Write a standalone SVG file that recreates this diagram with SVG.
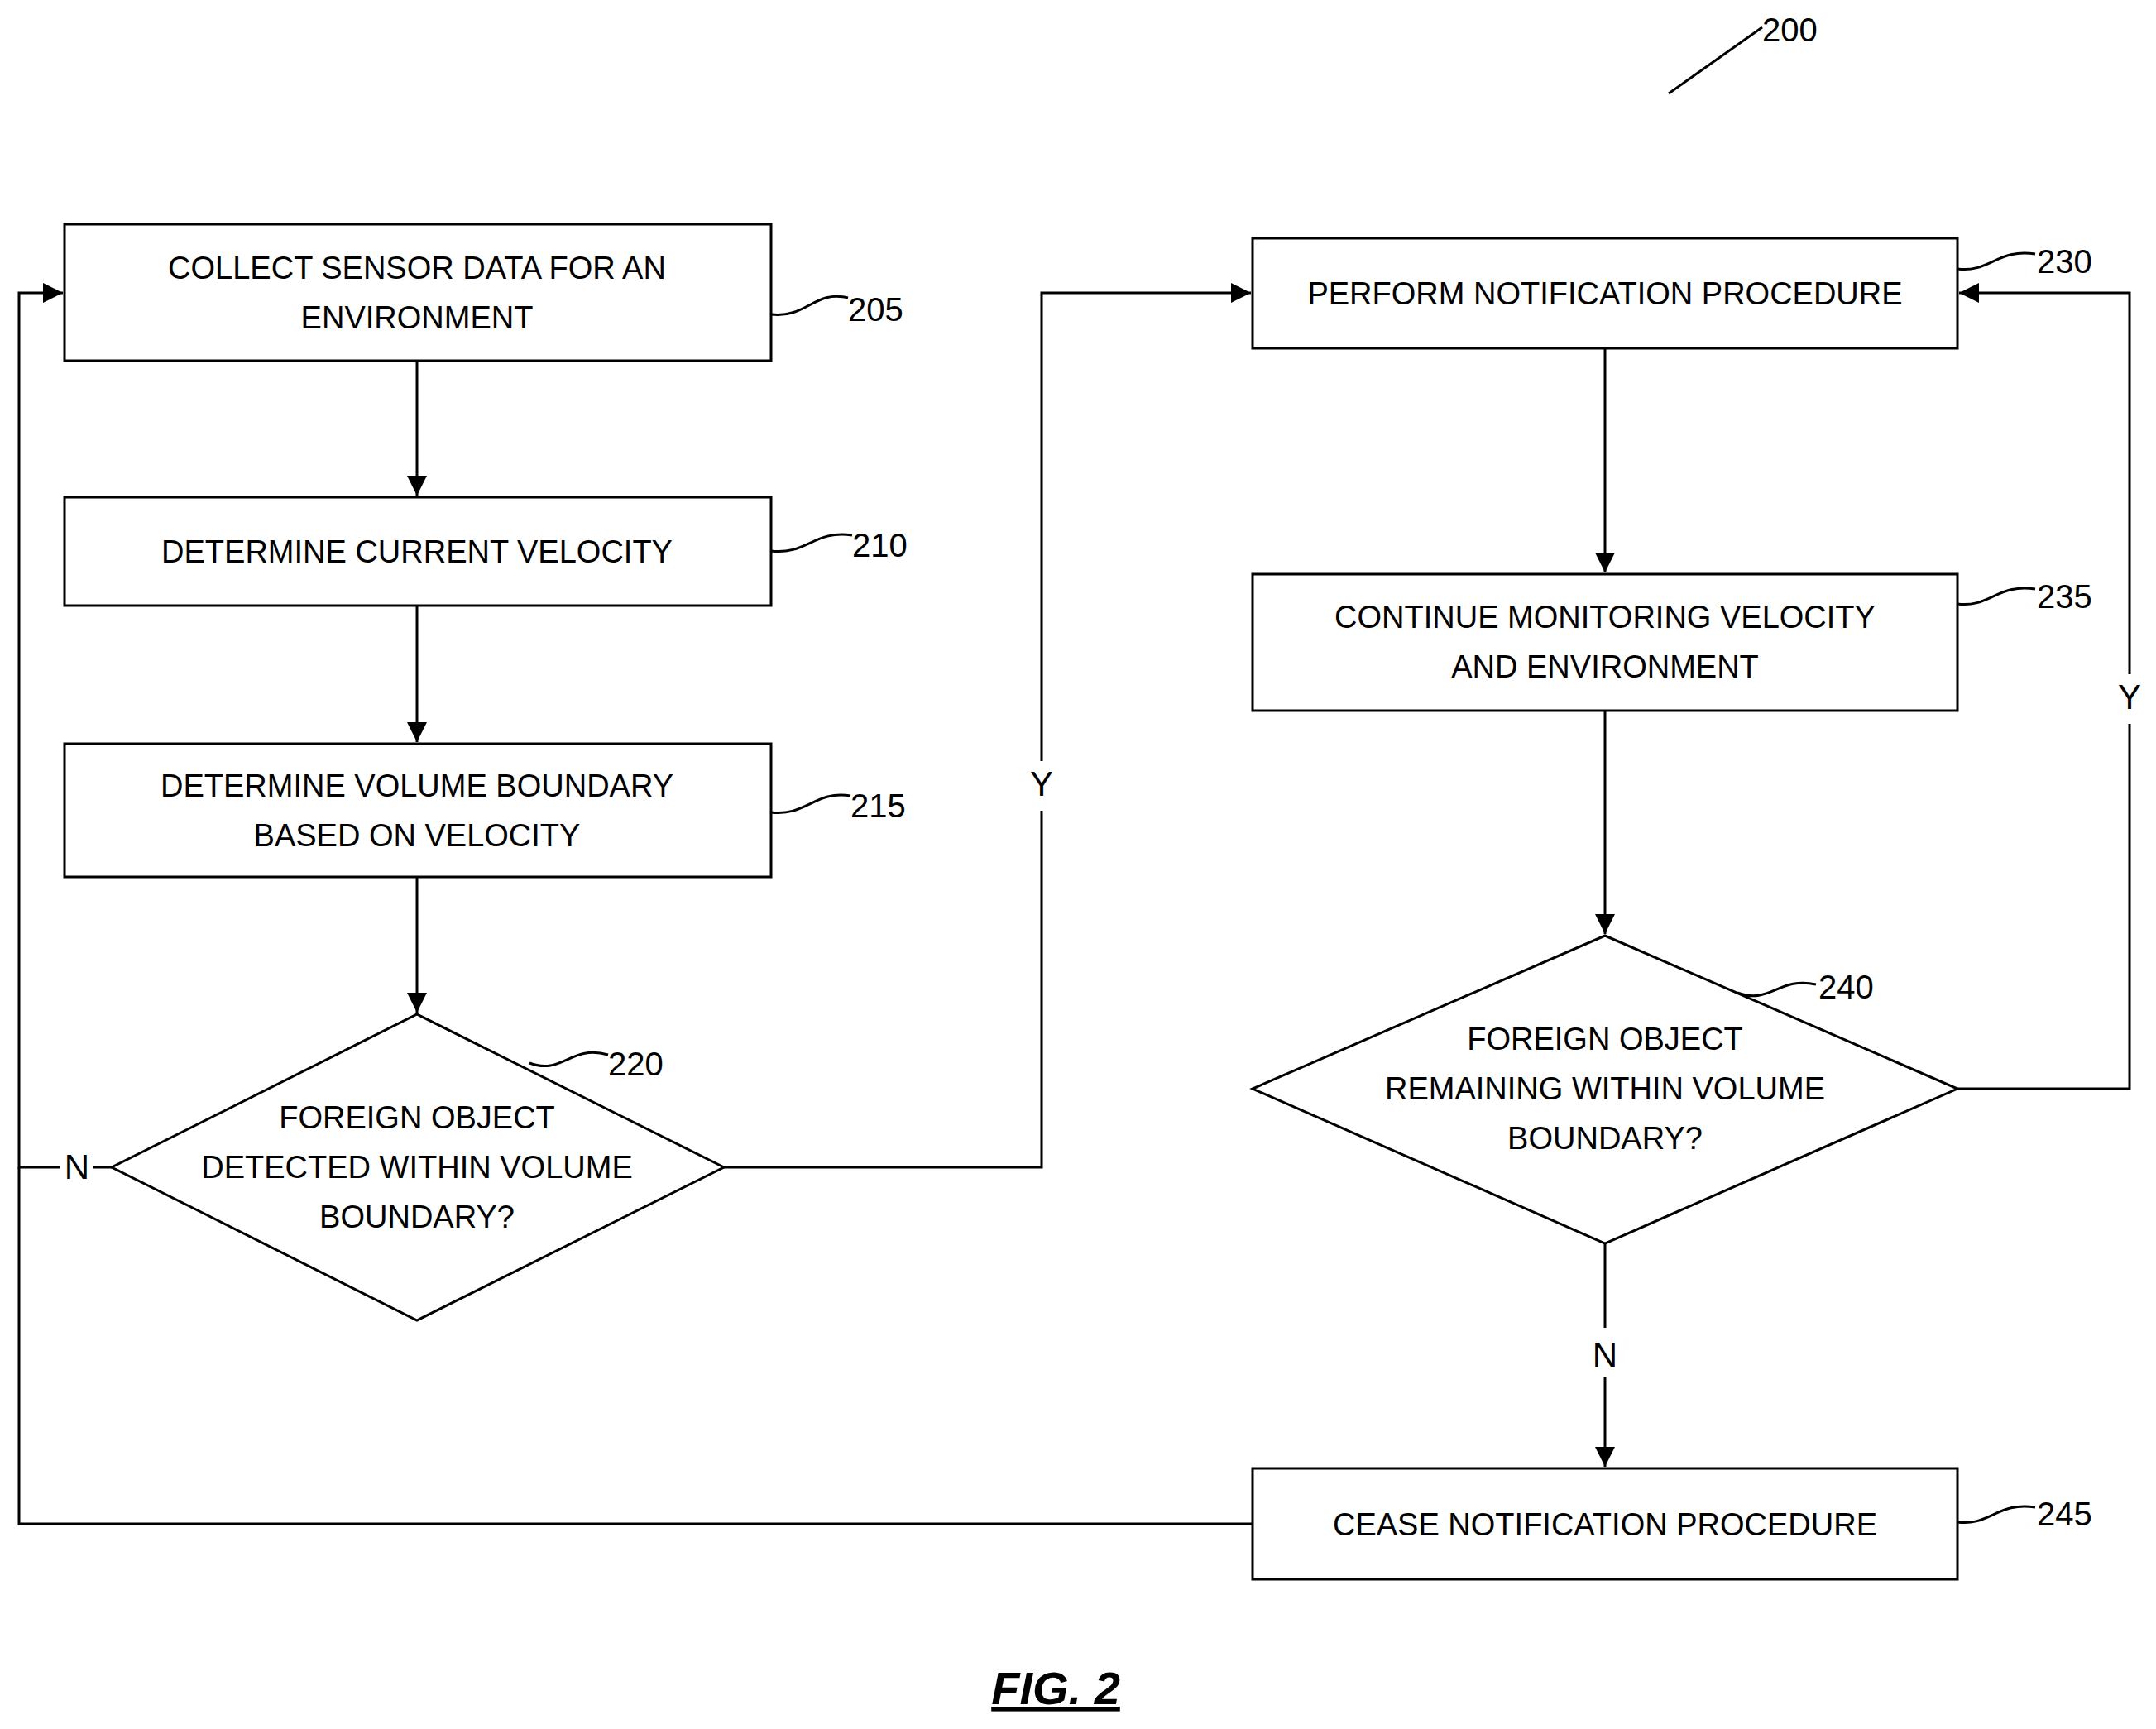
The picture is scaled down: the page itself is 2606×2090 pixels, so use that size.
<svg xmlns="http://www.w3.org/2000/svg" width="2606" height="2090" viewBox="0 0 2606 2090">
<style>
.b{fill:#fff;stroke:#000;stroke-width:3}
.l{fill:none;stroke:#000;stroke-width:3}
text{font-family:"Liberation Sans",Arial,sans-serif;font-size:38px;fill:#000;text-anchor:middle}
.r{text-anchor:start;font-size:40px}
</style>
<defs><marker id="a" markerWidth="10" markerHeight="10" refX="9" refY="5" orient="auto" markerUnits="userSpaceOnUse" viewBox="0 0 10 10"><path d="M0,0L10,5L0,10z"/></marker>
<marker id="ah" viewBox="0 0 10 10" refX="10" refY="5" markerWidth="24" markerHeight="24" orient="auto" markerUnits="userSpaceOnUse"><path d="M0,0L10,5L0,10z"/></marker></defs>
<g id="connectors">
<path class="l" d="M504,436V599" marker-end="url(#ah)"/>
<path class="l" d="M504,732V897" marker-end="url(#ah)"/>
<path class="l" d="M504,1060V1224" marker-end="url(#ah)"/>
<path class="l" d="M875,1411H1259V354H1512" marker-end="url(#ah)"/>
<path class="l" d="M135,1411H23V354H76" marker-end="url(#ah)"/>
<path class="l" d="M1940,421V692" marker-end="url(#ah)"/>
<path class="l" d="M1940,859V1129" marker-end="url(#ah)"/>
<path class="l" d="M2366,1316H2574V354H2368" marker-end="url(#ah)"/>
<path class="l" d="M1940,1503V1773" marker-end="url(#ah)"/>
<path class="l" d="M1514,1842H23V1411"/>
<rect x="1240" y="920" width="38" height="60" fill="#fff"/>
<text x="1259" y="962" style="font-size:42px">Y</text>
<rect x="2555" y="815" width="38" height="60" fill="#fff"/>
<text x="2574" y="857" style="font-size:42px">Y</text>
<rect x="72" y="1385" width="40" height="52" fill="#fff"/>
<text x="93" y="1425" style="font-size:42px">N</text>
<rect x="1920" y="1605" width="40" height="60" fill="#fff"/>
<text x="1940" y="1652" style="font-size:42px">N</text>
</g>
<g id="n205"><rect class="b" x="78" y="271" width="854" height="165"/><text x="504" y="337">COLLECT SENSOR DATA FOR AN</text><text x="504" y="397">ENVIRONMENT</text>
<path class="l" d="M932,380C975,385 985,350 1025,360"/><text class="r" x="1025" y="388">205</text></g>
<g id="n210"><rect class="b" x="78" y="601" width="854" height="131"/><text x="504" y="680">DETERMINE CURRENT VELOCITY</text>
<path class="l" d="M932,666C975,671 985,640 1030,647"/><text class="r" x="1030" y="673">210</text></g>
<g id="n215"><rect class="b" x="78" y="899" width="854" height="161"/><text x="504" y="963">DETERMINE VOLUME BOUNDARY</text><text x="504" y="1023">BASED ON VELOCITY</text>
<path class="l" d="M932,982C975,987 985,955 1028,962"/><text class="r" x="1028" y="988">215</text></g>
<g id="n220"><path class="b" d="M504,1226L875,1411L504,1596L135,1411Z"/><text x="504" y="1364">FOREIGN OBJECT</text><text x="504" y="1424">DETECTED WITHIN VOLUME</text><text x="504" y="1484">BOUNDARY?</text>
<path class="l" d="M640,1285C680,1300 690,1262 735,1275"/><text class="r" x="735" y="1300">220</text></g>
<g id="n230"><rect class="b" x="1514" y="288" width="852" height="133"/><text x="1940" y="368">PERFORM NOTIFICATION PROCEDURE</text>
<path class="l" d="M2366,325C2405,330 2415,300 2460,307"/><text class="r" x="2462" y="330">230</text></g>
<g id="n235"><rect class="b" x="1514" y="694" width="852" height="165"/><text x="1940" y="759">CONTINUE MONITORING VELOCITY</text><text x="1940" y="819">AND ENVIRONMENT</text>
<path class="l" d="M2366,730C2405,735 2415,705 2460,712"/><text class="r" x="2462" y="735">235</text></g>
<g id="n240"><path class="b" d="M1940,1131L2366,1316L1940,1503L1514,1316Z"/><text x="1940" y="1269">FOREIGN OBJECT</text><text x="1940" y="1329">REMAINING WITHIN VOLUME</text><text x="1940" y="1389">BOUNDARY?</text>
<path class="l" d="M2100,1200C2140,1215 2150,1180 2195,1190"/><text class="r" x="2198" y="1207">240</text></g>
<g id="n245"><rect class="b" x="1514" y="1775" width="852" height="134"/><text x="1940" y="1856">CEASE NOTIFICATION PROCEDURE</text>
<path class="l" d="M2366,1840C2405,1845 2415,1815 2460,1822"/><text class="r" x="2462" y="1844">245</text></g>
<g id="n200"><path class="l" d="M2017,113L2130,33"/><text class="r" x="2130" y="50">200</text></g>
<g id="fig"><text x="1276" y="2060" style="font-size:56px;font-weight:bold;font-style:italic;text-decoration:underline">FIG. 2</text></g>
</svg>
